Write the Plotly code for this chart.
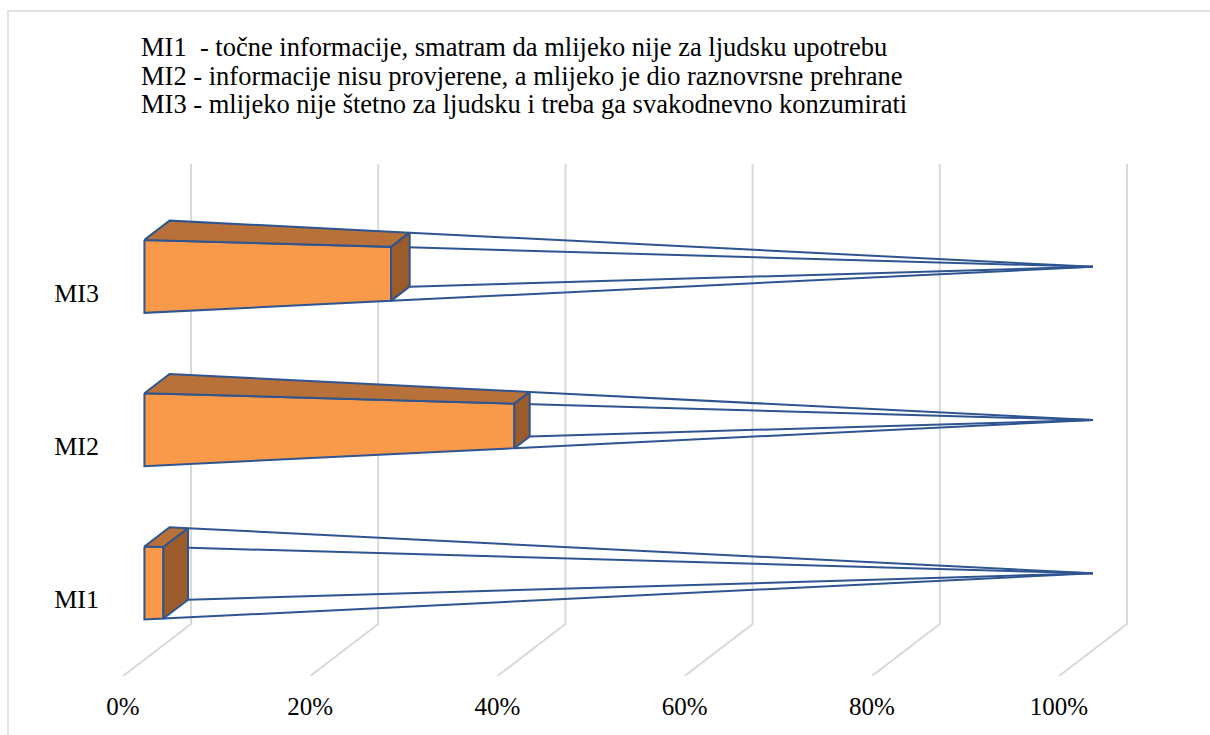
import plotly.graph_objects as go

# Data
categories = ["MI1", "MI2", "MI3"]
values = [2, 39, 26]  # percent
tick_values = [0, 20, 40, 60, 80, 100]
tick_labels = [f"{v}%" for v in tick_values]
notes = [
    "MI1\u00a0 - točne informacije, smatram da mlijeko nije za ljudsku upotrebu",
    "MI2 - informacije nisu provjerene, a mlijeko je dio raznovrsne prehrane",
    "MI3 - mlijeko nije štetno za ljudsku i treba ga svakodnevno konzumirati",
]

# Page / plot geometry (pixels)
W, H = 1210, 735
ML, MR, MT, MB = 110, 0, 150, 59
X0_PX = 123.0          # pixel of 0% on the front floor edge
PX_PER_PCT = 9.36      # pixels per percent
PX_PER_CAT = 153.3     # pixels per category step

# Oblique depth offsets (full depth of the chart), in data units
DX = 68 / PX_PER_PCT
DY = 52 / PX_PER_CAT
# Pyramid base half sizes
HALF_H = 0.238         # height half-size (category units)
HALF_D = 0.185         # depth half-size (fraction of full depth)
ZC = 0.5               # depth of pyramid axis

FONT = "'Liberation Serif', 'Times New Roman', Times, serif"
FRONT = "#F99A4A"
TOP = "#B9713A"
SIDE = "#9B5B2A"
EDGE = "#2E5590"
GRID = "#D9D9D9"


def proj(v, y3, z):
    return v + z * DX, y3 + z * DY


def corners(c, v):
    s = 1 - v / 100.0
    h = HALF_H * s
    zf, zb = ZC - HALF_D * s, ZC + HALF_D * s
    return {
        "FT": proj(v, c + h, zf),
        "FB": proj(v, c - h, zf),
        "BT": proj(v, c + h, zb),
        "BB": proj(v, c - h, zb),
    }


fig = go.Figure()

# Floor and back-wall gridlines
gx, gy = [], []
for v in tick_values:
    a = proj(v, -0.5, 0)
    b = proj(v, -0.5, 1)
    t = proj(v, 2.5, 1)
    gx += [a[0], b[0], t[0], None]
    gy += [a[1], b[1], t[1], None]
fig.add_trace(go.Scatter(x=gx, y=gy, mode="lines",
                         line=dict(color=GRID, width=2), hoverinfo="skip"))


def poly(pts, fill):
    xs = [p[0] for p in pts] + [pts[0][0]]
    ys = [p[1] for p in pts] + [pts[0][1]]
    fig.add_trace(go.Scatter(x=xs, y=ys, mode="lines", fill="toself",
                             fillcolor=fill,
                             line=dict(color=EDGE, width=2),
                             hoverinfo="skip"))


for c, (cat, val) in enumerate(zip(categories, values)):
    base = corners(c, 0)
    cut = corners(c, val)
    apex = proj(100, c, ZC)

    # Unfilled remainder of the pyramid as a wireframe
    wx, wy = [], []
    for k in ("FT", "BT", "BB", "FB"):
        wx += [cut[k][0], apex[0], None]
        wy += [cut[k][1], apex[1], None]
    fig.add_trace(go.Scatter(x=wx, y=wy, mode="lines",
                             line=dict(color=EDGE, width=2), hoverinfo="skip"))

    # Filled part: front, top and cut faces
    poly([base["FT"], cut["FT"], cut["FB"], base["FB"]], FRONT)
    poly([base["FT"], base["BT"], cut["BT"], cut["FT"]], TOP)
    poly([cut["FT"], cut["BT"], cut["BB"], cut["FB"]], SIDE)

plot_w = W - ML - MR
plot_h = H - MT - MB


def paper_x(px):
    return (px - ML) / plot_w


def paper_y(py):
    return (H - MB - py) / plot_h


annotations = []
for i, line in enumerate(notes):
    annotations.append(dict(
        x=paper_x(139), y=paper_y(47 + i * 28.5), xref="paper", yref="paper",
        xanchor="left", yanchor="middle", showarrow=False, text=line,
        font=dict(family=FONT, size=26.5, color="#000000")))

fig.update_layout(
    width=W, height=H,
    margin=dict(l=ML, r=MR, t=MT, b=MB),
    paper_bgcolor="white", plot_bgcolor="white",
    showlegend=False,
    annotations=annotations,
    shapes=[dict(type="rect", xref="paper", yref="paper",
                 x0=paper_x(8), y0=paper_y(745), x1=paper_x(1220), y1=paper_y(11),
                 line=dict(color="#D9D9D9", width=1.5), layer="below")],
    xaxis=dict(range=[(ML - X0_PX) / PX_PER_PCT, (W - MR - X0_PX) / PX_PER_PCT],
               tickvals=tick_values, ticktext=tick_labels,
               showgrid=False, zeroline=False, showline=False, ticks="",
               ticklabelstandoff=13,
               tickfont=dict(family=FONT, size=25, color="#000000")),
    yaxis=dict(range=[-0.5, -0.5 + plot_h / PX_PER_CAT],
               tickvals=list(range(len(categories))), ticktext=categories,
               showgrid=False, zeroline=False, showline=False, ticks="",
               ticklabelstandoff=10,
               tickfont=dict(family=FONT, size=26, color="#000000")),
)

fig.write_html("out.html")
